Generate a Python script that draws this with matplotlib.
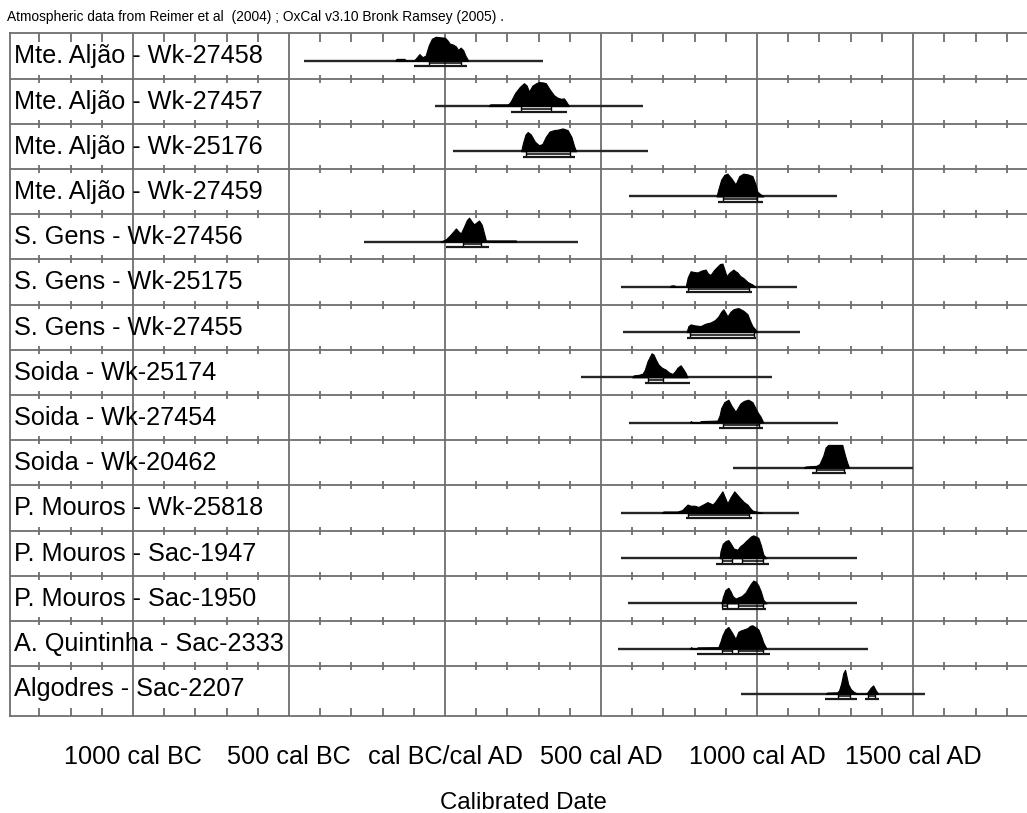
import matplotlib
matplotlib.use("Agg")
import matplotlib.pyplot as plt

plt.rcParams['font.family'] = ['Liberation Sans', 'DejaVu Sans']

# ---------------- data ----------------
title_text = "Atmospheric data from Reimer et al  (2004) ; OxCal v3.10 Bronk Ramsey (2005) ."

labels = [
    "Mte. Aljão - Wk-27458", "Mte. Aljão - Wk-27457", "Mte. Aljão - Wk-25176",
    "Mte. Aljão - Wk-27459", "S. Gens - Wk-27456", "S. Gens - Wk-25175",
    "S. Gens - Wk-27455", "Soida - Wk-25174", "Soida - Wk-27454",
    "Soida - Wk-20462", "P. Mouros - Wk-25818", "P. Mouros - Sac-1947",
    "P. Mouros - Sac-1950", "A. Quintinha - Sac-2333", "Algodres - Sac-2207",
]

# extent of each calibrated distribution (the long horizontal line), years (BC negative)
line_start = [-451, -32, 26, 588, -259, 563, 569, 435, 588, 924, 563, 563, 585, 553, 947]
line_end = [313, 636, 652, 1257, 425, 1129, 1138, 1049, 1260, 1500, 1135, 1321, 1321, 1356, 1538]

# probability distributions: years and relative heights (max = 1)
dist_years = [
    [-160, -155, -130, -125, -100, -92, -82, -72, -62, -52, -42, -30, -15, 0, 8, 15, 25, 35, 42, 50, 58, 66, 75],
    [140, 145, 200, 205, 211, 225, 240, 253, 262, 269, 280, 292, 301, 315, 323, 335, 349, 360, 372, 381, 390, 397],
    [244, 250, 258, 265, 275, 288, 301, 312, 323, 335, 349, 362, 377, 393, 405, 414, 420],
    [870, 876, 885, 895, 905, 918, 931, 943, 956, 970, 985, 995, 1001, 1012, 1020],
    [-15, -5, 3, 15, 25, 35, 45, 51, 60, 70, 77, 85, 93, 101, 109, 118, 125, 131, 200, 227, 228],
    [720, 725, 735, 740, 771, 778, 787, 798, 809, 822, 835, 843, 851, 862, 873, 881, 889, 896, 902, 912, 924, 931, 937, 946, 956, 970, 985, 995],
    [774, 780, 787, 800, 819, 835, 851, 865, 876, 885, 892, 899, 905, 915, 924, 932, 940, 955, 969, 978, 985, 995, 1001],
    [600, 605, 620, 633, 640, 649, 656, 662, 668, 675, 684, 695, 707, 718, 729, 737, 745, 755, 763, 771, 777],
    [785, 788, 792, 815, 820, 873, 880, 885, 895, 908, 918, 931, 940, 947, 958, 972, 985, 995, 1003, 1011, 1020],
    [1150, 1155, 1190, 1200, 1212, 1220, 1228, 1250, 1273, 1282, 1289, 1295],
    [695, 700, 745, 760, 777, 787, 800, 812, 827, 841, 850, 857, 865, 873, 881, 889, 897, 905, 915, 927, 937, 947, 958, 969, 978, 985, 1000, 1017],
    [880, 883, 890, 900, 908, 915, 925, 937, 946, 956, 965, 972, 980, 988, 996, 1004, 1012, 1020, 1030],
    [886, 890, 898, 908, 915, 922, 931, 940, 950, 963, 972, 979, 988, 996, 1004, 1012, 1020, 1030],
    [785, 789, 793, 805, 809, 876, 883, 889, 898, 908, 918, 931, 940, 947, 958, 969, 978, 985, 996, 1004, 1012, 1020, 1030],
    [1220, 1225, 1257, 1263, 1270, 1276, 1282, 1287, 1292, 1300, 1308, 1321, 1350, 1356, 1364, 1372, 1380, 1388],
]
dist_heights = [
    [0, 0.08, 0.08, 0, 0, 0.12, 0.28, 0.15, 0.22, 0.65, 0.92, 1.0, 0.98, 0.96, 0.85, 0.72, 0.68, 0.6, 0.45, 0.55, 0.45, 0.2, 0],
    [0, 0.07, 0.07, 0.1, 0.2, 0.55, 0.8, 0.95, 0.85, 0.6, 0.85, 0.95, 1.0, 0.98, 0.95, 0.7, 0.45, 0.35, 0.3, 0.32, 0.15, 0],
    [0, 0.35, 0.7, 0.8, 0.7, 0.4, 0.25, 0.3, 0.6, 0.82, 0.88, 0.9, 0.95, 0.88, 0.6, 0.2, 0],
    [0, 0.3, 0.7, 0.9, 0.95, 0.75, 0.5, 0.85, 0.95, 0.92, 0.85, 0.5, 0.2, 0.08, 0],
    [0, 0.05, 0.1, 0.25, 0.4, 0.55, 0.4, 0.35, 0.6, 0.9, 1.0, 0.85, 0.72, 0.8, 0.88, 0.7, 0.35, 0.05, 0.05, 0.05, 0],
    [0, 0.06, 0.06, 0, 0, 0.4, 0.65, 0.62, 0.6, 0.68, 0.72, 0.55, 0.5, 0.7, 0.85, 0.95, 0.97, 0.7, 0.45, 0.6, 0.72, 0.65, 0.6, 0.45, 0.37, 0.2, 0.1, 0],
    [0, 0.25, 0.32, 0.28, 0.25, 0.35, 0.4, 0.5, 0.65, 0.85, 0.95, 0.8, 0.65, 0.85, 0.95, 0.98, 1.0, 0.9, 0.75, 0.45, 0.25, 0.1, 0],
    [0, 0.08, 0.1, 0.15, 0.3, 0.67, 0.85, 1.0, 0.95, 0.75, 0.53, 0.4, 0.32, 0.2, 0.14, 0.25, 0.4, 0.5, 0.35, 0.18, 0],
    [0, 0.06, 0, 0, 0.06, 0.08, 0.3, 0.6, 0.85, 0.95, 0.7, 0.45, 0.65, 0.8, 0.9, 0.95, 0.85, 0.6, 0.4, 0.25, 0],
    [0, 0.05, 0.08, 0.15, 0.5, 0.85, 0.95, 0.95, 0.95, 0.5, 0.2, 0],
    [0, 0.06, 0.06, 0.12, 0.35, 0.3, 0.3, 0.25, 0.35, 0.45, 0.4, 0.35, 0.45, 0.6, 0.75, 0.9, 0.65, 0.4, 0.65, 0.9, 0.75, 0.6, 0.45, 0.35, 0.2, 0.1, 0.05, 0],
    [0, 0.3, 0.6, 0.72, 0.75, 0.62, 0.4, 0.35, 0.5, 0.6, 0.72, 0.8, 0.9, 0.95, 0.9, 0.85, 0.55, 0.15, 0],
    [0, 0.25, 0.55, 0.65, 0.5, 0.3, 0.2, 0.25, 0.3, 0.45, 0.65, 0.8, 0.95, 0.9, 0.75, 0.5, 0.15, 0],
    [0, 0.06, 0, 0, 0.05, 0.06, 0.3, 0.55, 0.8, 0.9, 0.7, 0.4, 0.7, 0.75, 0.8, 0.85, 0.95, 0.97, 0.88, 0.8, 0.55, 0.25, 0],
    [0, 0.05, 0.06, 0.15, 0.45, 0.85, 1.0, 0.7, 0.4, 0.2, 0.1, 0, 0, 0.1, 0.25, 0.35, 0.15, 0],
]

# 68.2% (1 sigma) and 95.4% (2 sigma) ranges
sigma1_ranges = [
    [(-51, 50)], [(243, 340)], [(259, 400)], [(890, 1000)], [(58, 115)],
    [(780, 975)], [(785, 990)], [(650, 700)], [(890, 1005)], [(1190, 1280)],
    [(780, 975)], [(889, 921), (953, 1020)], [(889, 905), (940, 1020)],
    [(889, 921), (940, 1020)], [(1260, 1298), (1356, 1378)],
]
sigma2_ranges = [
    [(-100, 70)], [(211, 390)], [(249, 416)], [(876, 1020)], [(3, 141)],
    [(771, 985)], [(777, 995)], [(640, 784)], [(879, 1020)], [(1177, 1286)],
    [(771, 985)], [(867, 1039)], [(889, 1030)], [(809, 1042)],
    [(1218, 1321), (1346, 1391)],
]

major_years = [-1000, -500, 0, 500, 1000, 1500]
major_labels = ["1000 cal BC", "500 cal BC", "cal BC/cal AD", "500 cal AD", "1000 cal AD", "1500 cal AD"]
minor_years = [y for y in range(-1300, 1900, 100) if y % 500 != 0]
x_label = "Calibrated Date"

# ---------------- layout ----------------
W, H = 1027, 813
ROW_PX = 45.2
PX = 1.0 / ROW_PX            # one pixel in row units
n_rows = len(labels)
y_bottom = n_rows + 4.5 * PX
GRID = "#6e6e6e"
X0, X1 = -1394, 1865

fig = plt.figure(figsize=(W / 100, H / 100), dpi=100)
fig.patch.set_facecolor("white")
ax = fig.add_axes([10 / W, (H - 716) / H, 1017 / W, 682.7 / H])
ax.set_xlim(X0, X1)
ax.set_ylim(y_bottom, 0)

for s in ["left", "top", "bottom"]:
    ax.spines[s].set_color(GRID)
    ax.spines[s].set_linewidth(1.3)
ax.spines["right"].set_visible(False)
ax.set_yticks([])

# grid: row separators and major verticals
ax.hlines(range(1, n_rows), X0, X1, colors=GRID, lw=1.3, zorder=1)
ax.vlines(major_years, 0, y_bottom, colors=GRID, lw=1.3, zorder=1)

# minor ticks on separators
for r in range(1, n_rows):
    ax.vlines(minor_years, r - 4 * PX, r + 4 * PX, colors=GRID, lw=1.3, zorder=1)
ax.vlines(minor_years, 0, 9 * PX, colors=GRID, lw=1.3, zorder=1)
ax.vlines(minor_years, y_bottom - 8 * PX, y_bottom, colors=GRID, lw=1.3, zorder=1)

DMAX = 24 * PX
for i in range(n_rows):
    base = i + 27.5 * PX
    ax.hlines(base, line_start[i], line_end[i], colors="#262626", lw=1.7, zorder=3)
    ys = [base - h * DMAX for h in dist_heights[i]]
    ax.fill_between(dist_years[i], base, ys, color="black", lw=0.8, edgecolor="black", zorder=4)
    for (a, b) in sigma1_ranges[i]:
        ax.hlines(base + 2.5 * PX, a, b, colors="black", lw=1.1, zorder=4)
        ax.vlines([a, b], base, base + 5 * PX, colors="black", lw=1.0, zorder=4)
    for (a, b) in sigma2_ranges[i]:
        ax.hlines(base + 5.5 * PX, a, b, colors="#1a1a1a", lw=1.6, zorder=4)
    ax.text(-1381, i + 30 * PX, labels[i], fontsize=18.2, va="baseline", ha="left",
            color="black", zorder=5)

ax.set_xticks(major_years, labels=major_labels)
ax.tick_params(axis="x", length=0, pad=21, labelsize=18.2)

ax.set_xlabel(x_label, fontsize=17.3)
ax.xaxis.set_label_coords((523 - 10) / 1017, -0.112)

fig.text(7 / W, 1 - 21.5 / H, title_text, fontsize=9.9, va="baseline", ha="left")

fig.savefig("out.png", dpi=100, facecolor="white")
